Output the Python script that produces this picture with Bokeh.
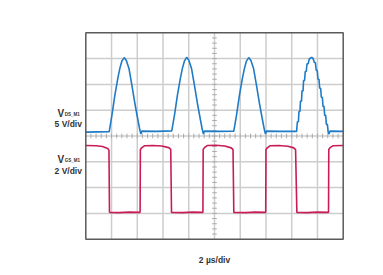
import numpy as np
from bokeh.plotting import figure
from bokeh.models import Range1d
from bokeh.core.properties import value
from bokeh.embed import file_html
from bokeh.resources import INLINE

# ---------------- data (time in µs, 2 µs/div; amplitude in screen divisions) -------------
# V_DS_M1 (5 V/div) trace
vds_t = [0.0, 0.9, 1.82, 2.03, 2.26, 2.49, 2.65, 2.80, 2.98, 3.15, 3.35, 3.58, 3.81, 4.05, 4.20, 4.28, 4.36,
         5.5, 6.68, 6.89, 7.12, 7.35, 7.51, 7.66, 7.84, 8.01, 8.21, 8.44, 8.67, 8.91, 9.06, 9.14, 9.22,
         10.4, 11.50, 11.71, 11.94, 12.17, 12.33, 12.48, 12.66, 12.83, 13.03, 13.26, 13.49, 13.73, 13.88, 13.96, 14.04,
         15.2, 16.38, 16.44, 16.52, 16.56, 16.64, 16.68, 16.76, 16.80, 16.88, 16.92, 17.00, 17.05, 17.13, 17.19,
         17.28, 17.36, 17.50, 17.58, 17.66, 17.76, 17.84, 17.90, 17.98, 18.04, 18.12, 18.17, 18.25, 18.30, 18.38,
         18.43, 18.51, 18.56, 18.64, 18.69, 18.77, 18.84, 18.90, 18.98, 20.0]
vds_v = [0.15, 0.16, 0.17, 0.81, 1.58, 2.24, 2.63, 2.90, 3.04, 2.93, 2.63, 1.97, 1.27, 0.62, 0.23, 0.08, 0.19,
         0.18, 0.20, 0.81, 1.58, 2.24, 2.63, 2.90, 3.05, 2.93, 2.63, 1.97, 1.27, 0.62, 0.23, 0.08, 0.19,
         0.18, 0.19, 0.81, 1.58, 2.24, 2.63, 2.90, 3.04, 2.93, 2.63, 1.97, 1.27, 0.62, 0.23, 0.08, 0.19,
         0.18, 0.18, 0.55, 0.55, 0.95, 0.95, 1.35, 1.35, 1.75, 1.75, 2.15, 2.15, 2.50, 2.50, 2.80,
         2.80, 2.98, 3.04, 3.04, 3.00, 2.85, 2.85, 2.55, 2.55, 2.20, 2.20, 1.85, 1.85, 1.50, 1.50,
         1.15, 1.15, 0.80, 0.80, 0.45, 0.45, 0.12, 0.08, 0.19, 0.18]

# V_GS_M1 (2 V/div) trace
vgs_t = [0.0, 0.8, 1.3, 1.70, 1.80, 1.84, 2.6, 3.4, 4.22,
         4.24, 4.34, 4.55, 5.2, 5.9, 6.45, 6.60, 6.66, 7.5, 8.3, 9.10,
         9.12, 9.22, 9.43, 10.1, 10.8, 11.30, 11.44, 11.50, 12.4, 13.2, 13.98,
         14.00, 14.10, 14.31, 15.0, 15.7, 16.16, 16.30, 16.40, 17.2, 18.0, 18.86,
         18.88, 18.98, 19.2, 20.0]
vgs_v = [-0.37, -0.38, -0.41, -0.48, -0.55, -2.96, -2.97, -2.95, -2.96,
         -0.52, -0.46, -0.38, -0.37, -0.39, -0.45, -0.52, -2.96, -2.97, -2.95, -2.96,
         -0.52, -0.45, -0.37, -0.36, -0.39, -0.46, -0.53, -2.96, -2.97, -2.95, -2.96,
         -0.52, -0.46, -0.38, -0.37, -0.40, -0.46, -0.53, -2.96, -2.97, -2.95, -2.96,
         -0.52, -0.45, -0.38, -0.37]

# graticule: 10 x-divisions of 2 µs, 8 y-divisions
x_divs = list(range(0, 22, 2))
y_divs = list(range(-4, 5))

W, H = 383, 275
px_per_us = (342.7 - 85.3) / 20.0
px_per_div = (238.7 - 32.3) / 8.0
x0_px, y0_px = 85.3, 135.5

p = figure(width=W, height=H, output_backend="svg", toolbar_location=None,
           min_border=0, outline_line_color=None,
           x_range=Range1d(-x0_px / px_per_us, (W - x0_px) / px_per_us),
           y_range=Range1d(-(H - y0_px) / px_per_div, y0_px / px_per_div))
p.axis.visible = False
p.grid.visible = False
p.background_fill_color = "white"
p.border_fill_color = "white"

grid_col = "#cdcdcd"
# grid lines
p.segment(x0=x_divs[1:-1], y0=[-4] * 9, x1=x_divs[1:-1], y1=[4] * 9, line_color=grid_col, line_width=1.5)
p.segment(x0=[0] * 7, y0=y_divs[1:-1], x1=[20] * 7, y1=y_divs[1:-1], line_color=grid_col, line_width=1.5)
# minor ticks on center axes
tx = np.arange(0.4, 20, 0.4)
p.segment(x0=tx, y0=-0.09, x1=tx, y1=0.09, line_color="#aaaaaa", line_width=1)
ty = np.arange(-3.8, 4, 0.2)
p.segment(x0=9.82, y0=ty, x1=10.18, y1=ty, line_color="#aaaaaa", line_width=1)

# traces
p.line(vds_t, vds_v, line_color="#1f7bc6", line_width=1.6)
p.line(vgs_t, vgs_v, line_color="#c81c58", line_width=1.6)

# frame
p.rect(x=[10], y=[0], width=20, height=8, fill_color=None, line_color="#5a5a5a", line_width=1.5)

# labels
fnt = value("Liberation Sans")
tc = "#333333"
p.text(x=[-1.68], y=[0.88], text=["V"], text_font=fnt, text_font_style="bold", text_font_size="10px",
       text_align="right", text_baseline="alphabetic", text_color=tc)
p.text(x=[-1.64], y=[0.83], text=["DS_M1"], text_font=fnt, text_font_style="bold", text_font_size="4.5px",
       text_align="left", text_baseline="alphabetic", text_color=tc)
p.text(x=[-0.3], y=[0.45], text=["5 V/div"], text_font=fnt, text_font_style="bold", text_font_size="8.5px",
       text_align="right", text_baseline="alphabetic", text_color=tc)
p.text(x=[-1.68], y=[-0.90], text=["V"], text_font=fnt, text_font_style="bold", text_font_size="10px",
       text_align="right", text_baseline="alphabetic", text_color=tc)
p.text(x=[-1.64], y=[-0.95], text=["GS_M1"], text_font=fnt, text_font_style="bold", text_font_size="4.5px",
       text_align="left", text_baseline="alphabetic", text_color=tc)
p.text(x=[-0.3], y=[-1.34], text=["2 V/div"], text_font=fnt, text_font_style="bold", text_font_size="8.5px",
       text_align="right", text_baseline="alphabetic", text_color=tc)
p.text(x=[10.0], y=[-4.8], text=["2 µs/div"], text_font=fnt, text_font_style="bold", text_font_size="8.5px",
       text_align="center", text_baseline="alphabetic", text_color=tc)

open("out.html", "w").write(file_html(p, INLINE))
